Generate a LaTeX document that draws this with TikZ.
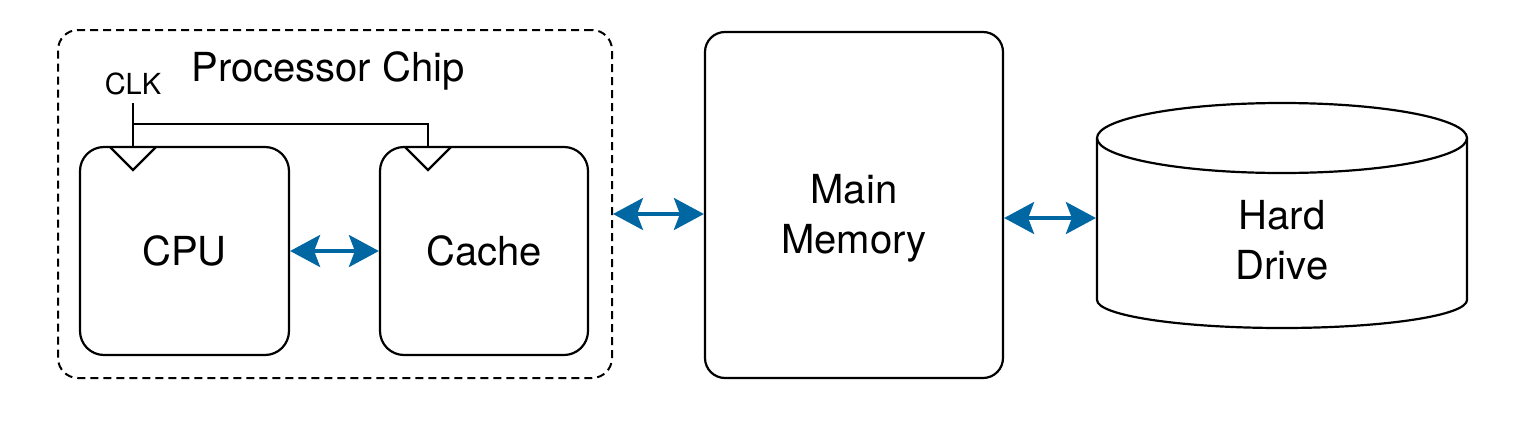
\documentclass[tikz,border=0pt]{standalone}
\usepackage{fontspec}
\setmainfont{TeX Gyre Heros}
\usetikzlibrary{arrows.meta}
\definecolor{linkblue}{RGB}{0,103,163}

\begin{document}
\begin{tikzpicture}[x=0.5pt,y=-0.5pt,line width=1.1pt,
		box/.style={draw,rounded corners=12pt,font=\fontsize{20}{25}\selectfont,align=center},
		tip/.style={Stealth[length=15pt,width=16pt,inset=3pt]},
		link/.style={{Stealth[length=15pt,width=16pt,inset=3pt]}-{Stealth[length=15pt,width=16pt,inset=3pt]},line width=1.7pt,draw=linkblue}]
	\useasboundingbox (0,0) rectangle (1524,428);
	% processor chip
	\draw (335,204) node [draw,line width=1pt,dash pattern=on 4pt off 2.5pt,rounded corners=10pt,minimum width=277pt,minimum height=174pt] (chip) {};
	\draw (328,71) node [font=\fontsize{20}{25}\selectfont] (chiplabel) {Processor Chip};
	\draw (184.5,251) node [box,minimum width=104.5pt,minimum height=104pt] (cpu) {CPU};
	\draw (484,251) node [box,minimum width=104pt,minimum height=104pt] (cache) {Cache};
	% clock
	\draw (133,84) node [font=\fontsize{14.5}{17}\selectfont] (clk) {CLK};
	\coordinate (cpuclk) at (133,147);
	\coordinate (cacheclk) at (428,147);
	\coordinate (clkjoin) at (133,124);
	\draw (clk.south) -- (cpuclk);
	\draw (clkjoin) -- (clkjoin -| cacheclk) -- (cacheclk);
	\foreach \c in {cpuclk,cacheclk}
		\draw ([xshift=-11.5pt]\c) -- ([yshift=-11.5pt]\c) -- ([xshift=11.5pt]\c);
	% memory
	\draw (854,205) node [box,rounded corners=10pt,minimum width=149pt,minimum height=173pt] (mem) {};
	\draw (854,218) node [font=\fontsize{20}{25}\selectfont,align=center] (memlabel) {Main\\Memory};
	% hard drive
	\draw (1282,138) ellipse [x radius=185, y radius=35];
	\draw (1097,138) -- (1097,300) arc [start angle=180, end angle=0, x radius=185, y radius=28] -- (1467,138);
	\draw (1282,240) node [font=\fontsize{20}{25}\selectfont,align=center,minimum width=185pt] (hd) {Hard\\Drive};
	% links
	\draw[link] (cpu.east) -- (cache.west);
	\draw[link] ([yshift=-5pt]chip.east) -- ([yshift=-5pt]chip.east -| mem.west);
	\draw[link] ([yshift=11pt]hd.west) -- ([yshift=11pt]hd.west -| mem.east);
\end{tikzpicture}
\end{document}
